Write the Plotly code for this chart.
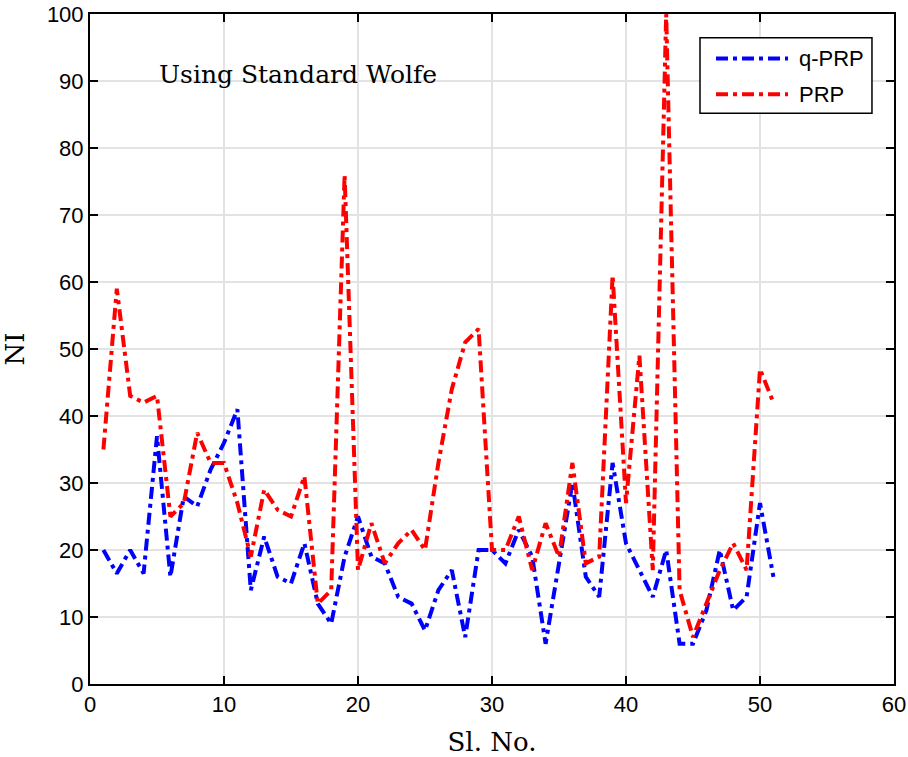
import plotly.graph_objects as go

sl_no = list(range(1, 52))
q_prp = [20, 16.5, 20, 16.5, 37, 16, 28, 26.5, 32, 36, 41, 14, 22, 16, 15, 21, 12, 9, 19, 25,
         19, 18, 13, 12, 8, 14, 17, 7, 20, 20, 18, 23, 19, 6, 18, 30, 16, 13, 33, 21,
         17, 13, 20, 6, 6, 11, 20, 11, 13, 27, 16]
prp = [35, 59, 43, 42, 43, 25, 27, 37.5, 33, 33, 27, 19, 29, 26, 25, 31, 12, 14, 76, 17,
       24, 18, 21, 23, 20, 33, 44, 51, 53, 20, 20, 25, 17, 24, 19, 33, 18, 19, 61, 27,
       49, 17, 100, 14, 7, 12, 17, 21, 17, 47, 42]
x_ticks = [0, 10, 20, 30, 40, 50, 60]
y_ticks = [0, 10, 20, 30, 40, 50, 60, 70, 80, 90, 100]
series_names = ["q-PRP", "PRP"]
series_colors = ["#0000ff", "#ff0000"]

dash = "12px,5px,4px,5px"
fig = go.Figure()
for name, vals, col in zip(series_names, [q_prp, prp], series_colors):
    fig.add_trace(go.Scatter(x=sl_no, y=vals, mode="lines", name=name, showlegend=False,
                             line=dict(color=col, width=4, dash=dash)))

axis_common = dict(showgrid=True, gridcolor="#e3e3e3", gridwidth=1.5,
                   showline=True, linecolor="black", linewidth=2, mirror="ticks",
                   ticks="inside", ticklen=8, tickwidth=1.5, tickcolor="black",
                   zeroline=False, automargin=False, ticklabeloverflow="allow",
                   tickfont=dict(family="Liberation Sans, Arial", size=22, color="black"))

fig.update_xaxes(range=[0, 60], tickvals=x_ticks,
                 title=dict(text="Sl. No.", font=dict(family="DejaVu Serif, Liberation Serif", size=26, color="black"), standoff=17),
                 **axis_common)
fig.update_yaxes(range=[0, 100], tickvals=y_ticks,
                 title=dict(text="NI", font=dict(family="DejaVu Serif, Liberation Serif", size=26, color="black"), standoff=17),
                 **axis_common)

fig.add_annotation(x=5, y=91, xref="x", yref="y", text="Using Standard Wolfe",
                   showarrow=False, xanchor="left", yanchor="middle",
                   font=dict(family="DejaVu Serif, Liberation Serif", size=25, color="black"))

# custom legend box (paper coordinates)
fig.add_shape(type="rect", xref="paper", yref="paper", x0=0.7587, x1=0.9726, y0=0.852, y1=0.9645,
              line=dict(color="black", width=1.5), fillcolor="white", layer="above")
legend_rows = [0.9334, 0.8802]
for name, col, yy in zip(series_names, series_colors, legend_rows):
    fig.add_shape(type="line", xref="paper", yref="paper", x0=0.7786, x1=0.8682, y0=yy, y1=yy,
                  line=dict(color=col, width=4, dash=dash), layer="above")
    fig.add_annotation(x=0.8794, y=yy, xref="paper", yref="paper", text=name, showarrow=False,
                       xanchor="left", yanchor="middle",
                       font=dict(family="Liberation Sans, Arial", size=22, color="black"))

fig.update_layout(
    width=908, height=757,
    margin=dict(l=90, r=14, t=14, b=73),
    plot_bgcolor="white", paper_bgcolor="white",
    showlegend=False,
)

fig.write_html("out.html", config={"displayModeBar": False},
               post_script="document.body.style.margin='0';document.body.style.overflow='hidden';")
